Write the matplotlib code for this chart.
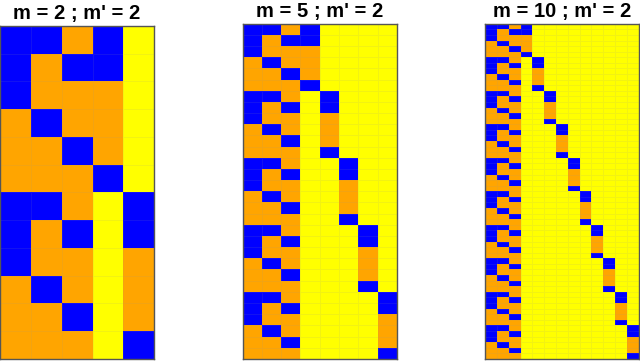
import numpy as np
import matplotlib
matplotlib.use('Agg')
import matplotlib.pyplot as plt
from matplotlib.colors import ListedColormap

# cell codes: 0 = orange, 1 = blue, 2 = yellow
m_values = [2, 5, 10]
m_prime = 2
# the 3 leftmost columns repeat this 6-row block
left_block = [[1, 1, 0],
              [1, 0, 1],
              [1, 0, 0],
              [0, 1, 0],
              [0, 0, 1],
              [0, 0, 0]]
# the staircase column for each block
stair_block = [1, 1, 0, 0, 0, 1]

cmap = ListedColormap(['#FFA500', '#0000FF', '#FFFF00'])

# axes boxes in figure fractions (left, bottom, width, height)
boxes = [(0.0, 0.006, 0.241, 0.922),
         (0.379, 0.006, 0.241, 0.928),
         (0.758, 0.006, 0.240, 0.928)]

fig = plt.figure(figsize=(6.4, 3.61), dpi=100)

for m, box in zip(m_values, boxes):
    nrow = 6 * m
    ncol = 3 + m
    grid = np.full((nrow, ncol), 2)
    grid[:, :3] = np.tile(np.array(left_block), (m, 1))
    for k in range(m):
        grid[6 * k:6 * k + 6, 3 + k] = stair_block

    ax = fig.add_axes(box)
    ax.pcolormesh(grid, cmap=cmap, vmin=0, vmax=2,
                  edgecolors=(0.6, 0.6, 0.6, 0.12), linewidth=0.4)
    ax.set_xlim(0, ncol)
    ax.set_ylim(nrow, 0)
    ax.set_xticks([])
    ax.set_yticks([])
    for s in ax.spines.values():
        s.set_color('#555555')
        s.set_linewidth(1.0)
    ax.set_title("m = %d ; m' = %d" % (m, m_prime), fontsize=14.5,
                 fontweight='bold', family='Liberation Sans', pad=5)

fig.savefig('out.png', dpi=100)
